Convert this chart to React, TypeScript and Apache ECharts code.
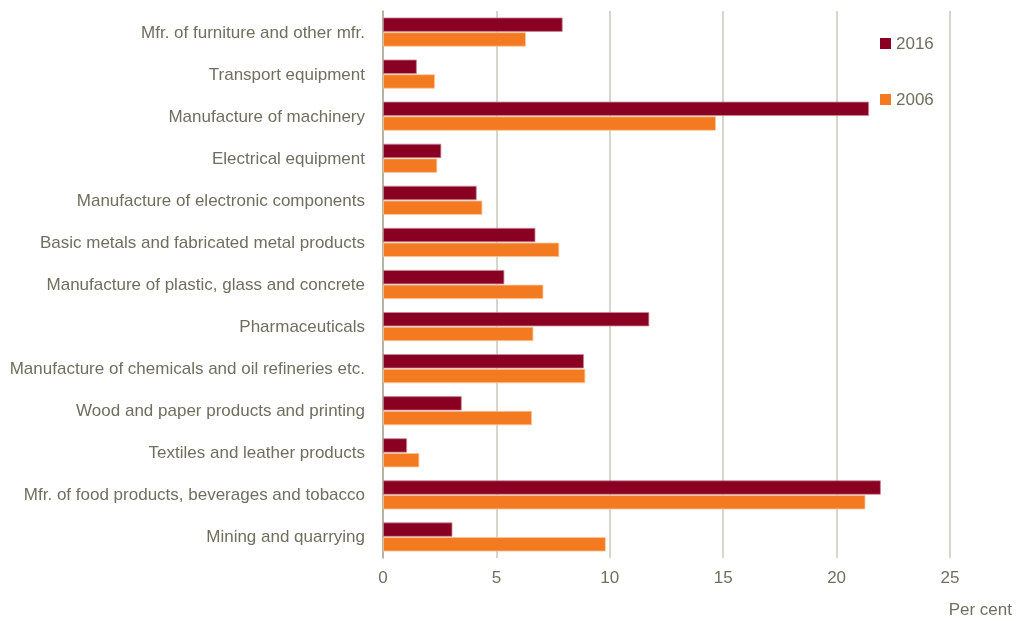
import React, { useEffect, useRef } from "react";
import * as echarts from "echarts";

const categories = [
  "Mfr. of furniture and other mfr.",
  "Transport equipment",
  "Manufacture of machinery",
  "Electrical equipment",
  "Manufacture of electronic components",
  "Basic metals and fabricated metal products",
  "Manufacture of plastic, glass and concrete",
  "Pharmaceuticals",
  "Manufacture of chemicals and oil refineries etc.",
  "Wood and paper products and printing",
  "Textiles and leather products",
  "Mfr. of food products, beverages and tobacco",
  "Mining and quarrying",
];
const values2016 = [7.92, 1.49, 21.43, 2.57, 4.13, 6.72, 5.35, 11.74, 8.86, 3.47, 1.06, 21.95, 3.06];
const values2006 = [6.3, 2.29, 14.68, 2.39, 4.38, 7.77, 7.07, 6.63, 8.92, 6.57, 1.6, 21.27, 9.82];
const xTicks = [0, 5, 10, 15, 20, 25];

const FONT = "'Liberation Sans Narrow', 'Arial Narrow', 'Liberation Sans', Arial, sans-serif";
const TEXT = "#6f6f5f";

export default function App() {
  const ref = useRef<HTMLDivElement>(null);
  useEffect(() => {
    if (!ref.current) return;
    const chart = echarts.init(ref.current, undefined, { renderer: "svg" });
    chart.setOption({
      animation: false,
      textStyle: { fontFamily: FONT },
      grid: { left: 383, right: 67, top: 11, bottom: 63, containLabel: false, outerBoundsMode: "none" },
      legend: {
        orient: "vertical",
        left: 875,
        top: 30,
        itemWidth: 11,
        itemHeight: 11,
        itemGap: 39,
        itemStyle: { borderColor: "#ffffff", borderWidth: 0 },
        icon: "rect",
        textStyle: { color: TEXT, fontSize: 17, fontFamily: FONT },
        data: ["2016", "2006"],
      },
      xAxis: {
        type: "value",
        min: xTicks[0],
        max: xTicks[xTicks.length - 1],
        interval: 5,
        axisLine: { show: false },
        axisTick: { show: false },
        axisLabel: { color: TEXT, fontSize: 17, margin: 11, fontFamily: FONT },
        splitLine: { show: true, lineStyle: { color: "#c8c8bc", width: 1.5 } },
      },
      yAxis: {
        type: "category",
        data: categories,
        inverse: true,
        axisLine: { show: true, lineStyle: { color: "#a9a99a", width: 1.5 } },
        axisTick: { show: false },
        axisLabel: { color: TEXT, fontSize: 17, margin: 18, fontFamily: FONT },
      },
      graphic: [
        {
          type: "text",
          right: 5,
          top: 601,
          style: { text: "Per cent", fill: TEXT, fontSize: 17, fontFamily: FONT },
        },
      ],
      series: [
        {
          name: "2016",
          type: "bar",
          data: values2016,
          barCategoryGap: "31%",
          barGap: "3%",
          itemStyle: { color: "#8a0022", borderColor: "#c58a97", borderWidth: 0.8 },
        },
        {
          name: "2006",
          type: "bar",
          data: values2006,
          itemStyle: { color: "#f47a22", borderColor: "#f9c699", borderWidth: 0.8 },
        },
      ],
    });
    return () => chart.dispose();
  }, []);
  return <div ref={ref} style={{ position: "fixed", left: 0, top: 0, width: 1017, height: 621 }} />;
}
